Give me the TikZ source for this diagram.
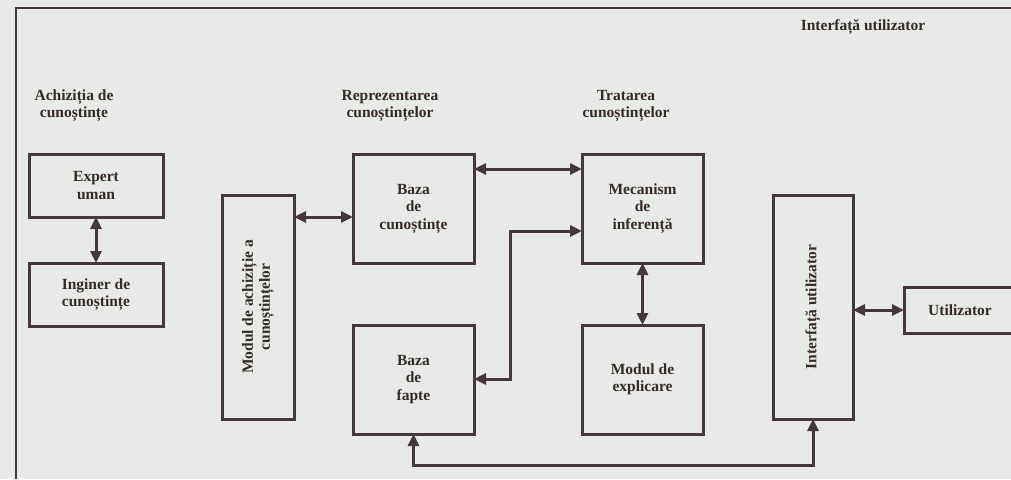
\documentclass[tikz,border=0pt]{standalone}
\usepackage{fontspec}
\setmainfont{Liberation Serif}
\usetikzlibrary{arrows.meta,calc}
\definecolor{bg}{HTML}{E8EAE7}
\definecolor{ink}{HTML}{46383A}
\definecolor{txt}{HTML}{352A2A}
\begin{document}
\begin{tikzpicture}[x=1pt,y=-1pt,
  box/.style={draw=ink,line width=3pt,inner sep=0pt,outer sep=0pt,align=center,
    text=txt,font=\fontsize{15.5}{17.5}\selectfont\bfseries},
  lbl/.style={align=center,text=txt,inner sep=0pt,font=\fontsize{15.5}{17}\selectfont\bfseries},
  dbl/.style={draw=ink,line width=3pt,
    {Triangle[length=12pt,width=11pt]}-{Triangle[length=12pt,width=11pt]}},
  frame/.style={draw=ink,line width=2pt}]
\fill[bg] (0,0) rectangle (1011,479);
\useasboundingbox (0,0) rectangle (1011,479);
\clip (0,0) rectangle (1011,479);
\draw[frame] (16,479) -- (16,8) -- (1011,8);

% group titles
\node[lbl] (tAchiz) at (74,105.5) {Achiziția de\\cunoștințe};
\node[lbl] (tRepr) at (390,105.5) {Reprezentarea\\cunoștințelor};
\node[lbl] (tTrat) at (626,105.5) {Tratarea\\cunoștințelor};
\node[lbl] (tInterf) at (863,27) {Interfață utilizator};

% boxes
\node[box,minimum width=134pt,minimum height=63pt] (expert) at (96,185.5) {Expert\\uman};
\node[box,minimum width=134pt,minimum height=63pt] (inginer) at (96,294.5) {Inginer de\\cunoștințe};
\node[box,minimum width=72pt,minimum height=224pt] (modul) at (258,307) {};
\node[lbl,rotate=90] (modult) at (modul.center) {Modul de achiziție a\\cunoștințelor};
\node[box,minimum width=121pt,minimum height=109pt] (bazac) at (413.5,208.5) {Baza\\de\\cunoștințe};
\node[box,minimum width=121pt,minimum height=109pt] (bazaf) at (413.5,379.5) {Baza\\de\\fapte};
\node[box,minimum width=121pt,minimum height=109pt] (mecan) at (642.5,208.5) {Mecanism\\de\\inferență};
\node[box,minimum width=121pt,minimum height=109pt] (explic) at (642.5,379.5) {Modul de\\explicare};
\node[box,minimum width=80pt,minimum height=224pt] (interf) at (813,307) {};
\node[lbl,rotate=90] (interft) at (interf.center) {Interfață utilizator};
\node[box,minimum width=112pt,minimum height=46pt] (util) at (960,310) {Utilizator};

% connectors
\draw[dbl] (expert.south) -- (inginer.north);
\draw[dbl] (modul.east |- 0,217) -- (bazac.west |- 0,217);
\draw[dbl] (bazac.east |- 0,169) -- (mecan.west |- 0,169);
\draw[dbl] (bazaf.east |- 0,379) -- ++(36,0) |- (mecan.west |- 0,231);
\draw[dbl] (mecan.south) -- (explic.north);
\draw[dbl] (interf.east |- 0,310) -- (util.west |- 0,310);
\draw[dbl] (bazaf.south) -- ++(0,31) -| (interf.south);
\end{tikzpicture}
\end{document}
